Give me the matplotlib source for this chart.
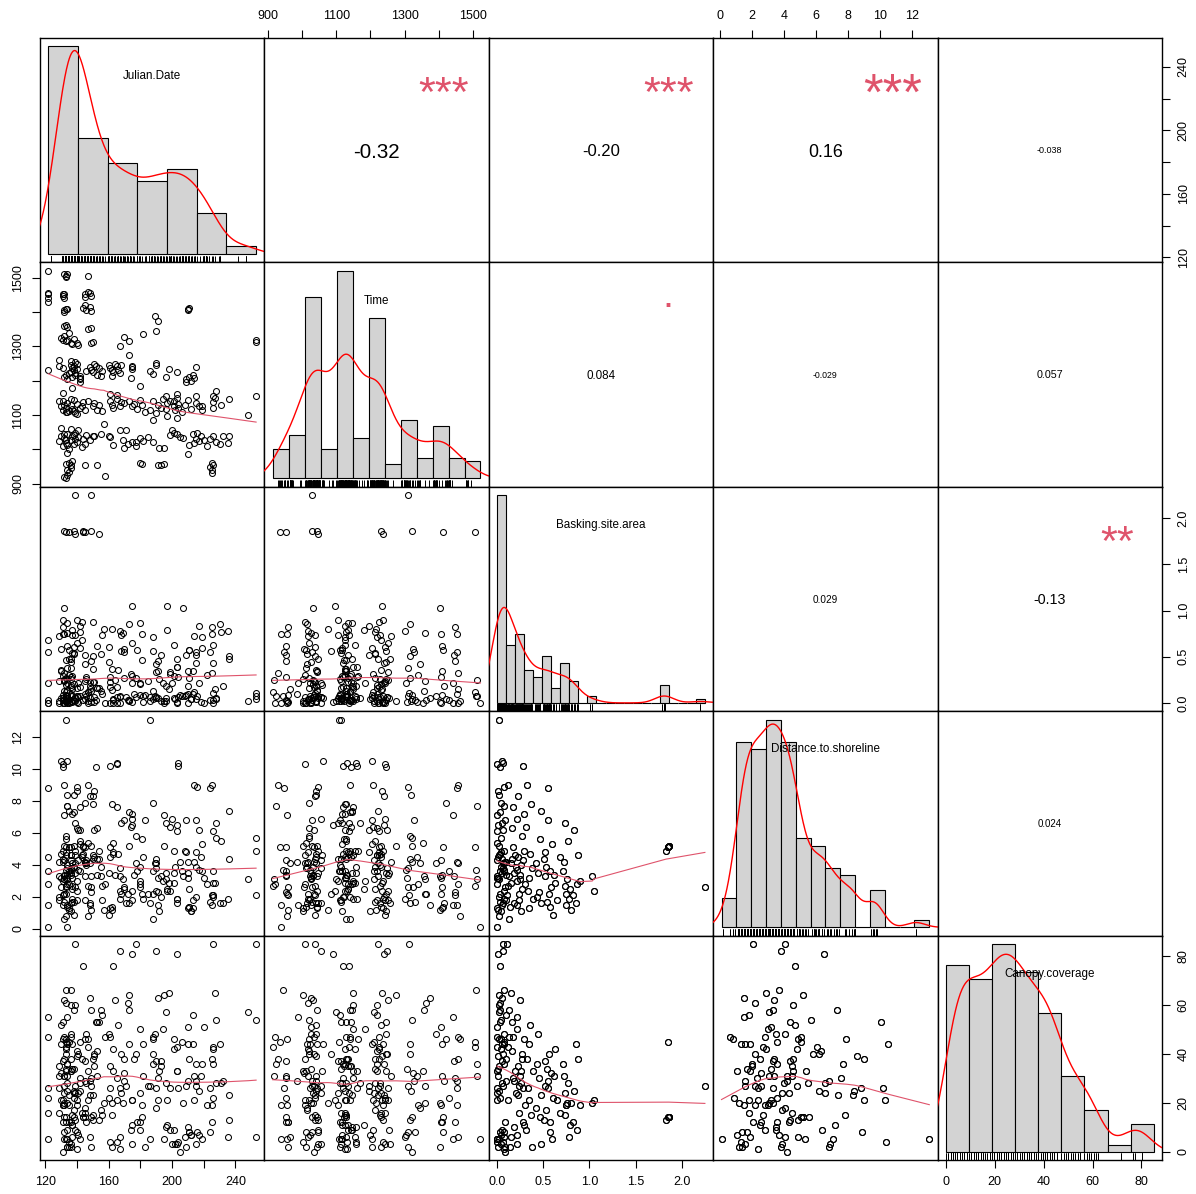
#!/usr/bin/env python3
"""
Correlation scatterplot matrix for the basking survey
(PerformanceAnalytics chart.Correlation look: scatter + lowess below,
r and significance stars above, histogram + density on the diagonal).
"""

import numpy as np
import matplotlib
matplotlib.use("Agg")
import matplotlib.pyplot as plt
from matplotlib import transforms

plt.rcParams["font.family"] = ["Liberation Sans", "DejaVu Sans"]

var_names = ["Julian.Date", "Time", "Basking.site.area",
             "Distance.to.shoreline", "Canopy.coverage"]

# ---- site attributes (one entry per basking site) ----
site_area = [
    0.0, 0.25, 0.07, 1.85, 0.08, 0.12, 0.0, 0.55, 0.75, 0.32,
    0.1, 0.15, 0.02, 0.22, 0.03, 0.82, 0.0, 0.52, 0.45, 0.75,
    0.09, 0.62, 1.85, 0.28, 0.01, 0.18, 0.0, 0.35, 0.57, 1.03,
    0.04, 0.24, 0.03, 0.76, 0.0, 0.13, 0.05, 0.07, 0.42, 0.58,
    0.09, 0.27, 0.02, 0.38, 0.01, 1.86, 2.25, 0.51, 0.78, 0.85,
    0.04, 0.11, 0.03, 0.3, 0.01, 0.21, 0.07, 0.55, 0.72, 0.47,
    0.05, 0.33, 0.02, 0.26, 0.08, 0.2, 0.06, 0.65, 0.17, 0.6,
    0.01, 0.23, 1.86, 0.88, 0.06, 0.16, 1.83, 0.53, 0.73, 0.44,
    0.0, 0.14, 0.04, 0.25, 0.0, 0.36, 0.0, 0.56, 0.8, 1.05,
    0.01, 0.22, 0.06, 0.06, 0.0, 0.19, 0.05, 0.48, 0.77, 0.59,
    0.08, 0.31, 0.09, 0.27, 0.1, 0.12, 0.24, 0.68, 0.9, 0.54,
    0.02, 0.26, 0.03, 0.71, 0.02, 0.15, 0.0, 0.43, 0.83, 0.52,
    0.04, 0.18, 0.08, 0.28, 0.06, 0.39, 0.04, 0.63, 0.29, 0.79,
    0.05, 0.21, 0.02, 0.34, 0.05, 0.13, 0.02, 0.46, 0.86, 0.57,
    0.1, 0.29, 0.03, 0.74, 0.07, 0.17, 0.03, 0.37, 0.23, 0.16,
]
site_distance = [
    0.1, 3.1, 3.7, 5.1, 7.7, 2.7, 2.8, 8.8, 1.5, 9.0,
    4.2, 4.1, 0.8, 1.5, 3.6, 2.1, 7.1, 3.3, 2.3, 2.2,
    2.6, 3.4, 5.1, 4.3, 1.2, 1.6, 3.2, 1.3, 1.4, 3.3,
    7.9, 2.2, 2.2, 3.1, 5.4, 3.3, 1.5, 4.1, 4.1, 2.6,
    4.2, 5.8, 8.4, 3.8, 3.2, 5.2, 2.6, 4.4, 1.9, 1.6,
    5.7, 2.1, 1.7, 2.8, 4.5, 3.7, 8.9, 6.8, 4.2, 1.6,
    3.5, 2.4, 5.2, 1.1, 1.9, 3.9, 4.1, 1.8, 5.1, 0.9,
    8.6, 8.3, 5.2, 4.6, 6.2, 6.3, 4.9, 3.9, 2.7, 3.5,
    1.3, 1.4, 4.8, 3.4, 10.3, 4.7, 3.3, 2.2, 1.2, 2.4,
    6.5, 6.9, 1.6, 3.8, 4.3, 4.6, 10.5, 7.4, 5.5, 5.3,
    3.6, 6.4, 6.8, 2.5, 1.8, 9.0, 1.8, 4.5, 3.0, 1.7,
    4.6, 4.0, 10.1, 3.6, 3.1, 2.9, 6.1, 2.0, 6.2, 4.8,
    1.1, 3.5, 4.9, 10.2, 10.4, 1.9, 3.9, 2.9, 4.9, 2.5,
    6.6, 3.0, 2.0, 3.2, 4.4, 0.6, 13.1, 5.6, 2.8, 3.6,
    3.4, 7.2, 7.3, 6.6, 2.4, 7.6, 4.7, 7.8, 4.5, 4.4,
]
site_canopy = [
    5, 31, 66, 45, 36, 43, 47, 26, 19, 38,
    29, 6, 46, 55, 22, 12, 5, 37, 30, 19,
    12, 31, 14, 12, 2, 29, 51, 44, 8, 20,
    46, 27, 61, 20, 33, 58, 63, 48, 18, 32,
    0, 40, 25, 2, 34, 14, 27, 13, 6, 44,
    54, 85, 8, 19, 31, 7, 8, 29, 31, 3,
    9, 26, 64, 33, 44, 24, 85, 21, 47, 22,
    39, 23, 14, 38, 40, 41, 13, 17, 15, 48,
    4, 2, 42, 62, 21, 52, 26, 40, 20, 21,
    81, 3, 27, 82, 24, 33, 44, 23, 28, 5,
    45, 9, 2, 38, 56, 21, 16, 16, 19, 34,
    60, 28, 53, 36, 57, 65, 43, 36, 25, 27,
    7, 10, 6, 26, 4, 33, 3, 42, 46, 11,
    28, 50, 35, 21, 37, 47, 5, 14, 9, 12,
    38, 11, 58, 24, 1, 30, 76, 15, 35, 53,
]

# ---- survey observations (first round of visits, then second round) ----
julian_date = [
    122, 132, 133, 133, 134, 147,
    122, 122, 131, 132, 145, 148, 147,
    122, 122, 131, 132, 145, 149, 132, 133, 134, 144, 146, 149, 148, 210, 210, 211, 132, 145,
    132, 133, 134, 147, 149, 191, 189,
    190, 130, 131, 133, 134, 136, 137, 138, 149, 150, 167, 173, 253, 253, 132, 135, 182, 141,
    140, 170,
    129, 136, 139, 190, 173,
    136, 137, 138, 139, 140, 136, 138, 140, 148, 149, 150, 151, 153, 154, 155, 156, 160, 161,
    162, 163, 164, 165, 166, 167, 168, 162, 175, 175, 175, 186, 190, 132, 133, 134, 135, 142,
    142, 142, 174, 209, 211, 213, 214, 129, 122, 131, 137, 139, 146, 152, 188, 196, 198, 203,
    215,
    142, 209, 212, 196, 253, 161, 165, 203, 215, 226, 131, 137, 228, 180,
    129, 130, 131, 132, 133, 133, 134, 135, 136, 137, 138, 139, 140, 142, 144, 150, 151, 153,
    154, 161, 162, 163, 165, 167, 168, 173, 175, 176, 178, 180, 181, 186, 188, 190, 191, 193,
    194, 196, 197, 201, 201, 202, 203, 204, 204, 208, 210, 212, 215, 217, 226, 226, 227, 248,
    219, 131, 134, 136, 138, 140, 143, 145, 147, 156, 170, 183, 199, 206, 219, 231, 236,
    130, 136, 141, 167, 171, 200, 203, 197, 157, 188,
    129, 130, 131, 132, 133, 134, 135, 136, 137, 138, 139, 140, 141, 143, 144, 150, 151, 160,
    161, 175, 177, 180, 182, 192, 195, 199, 201, 203, 214, 215, 216, 217, 218, 222, 224, 226,
    228, 230, 235, 236, 139, 132, 133, 134, 138, 177, 205, 170, 145, 146, 148, 155, 163, 169,
    172, 185, 188, 207, 211, 213, 220, 232,
    135, 136, 145, 153, 180, 181, 191, 193, 195, 225, 226, 134, 133, 137, 210,
    225, 225, 224, 158, 133, 134, 135, 136, 132, 134,
]
time_of_day = [
    1521, 1510, 1507, 1504, 1512, 1506,
    1455, 1452, 1452, 1454, 1453, 1456, 1460,
    1440, 1430, 1446, 1442, 1445, 1448, 1405, 1408, 1410, 1412, 1406, 1404, 1415, 1405, 1410,
    1413, 1402, 1420,
    1360, 1362, 1358, 1352, 1355, 1375, 1390,
    1345, 1325, 1320, 1315, 1318, 1310, 1306, 1322, 1311, 1314, 1301, 1316, 1320, 1312, 1330,
    1340, 1335, 1303, 1310, 1328,
    1260, 1257, 1255, 1252, 1275,
    1245, 1238, 1230, 1223, 1250, 1226, 1243, 1235, 1240, 1232, 1225, 1248, 1218, 1236, 1213,
    1229, 1245, 1238, 1230, 1225, 1250, 1242, 1232, 1223, 1246, 1215, 1233, 1240, 1243, 1228,
    1247, 1210, 1218, 1204, 1223, 1213, 1205, 1209, 1208, 1205, 1212, 1218, 1208, 1242, 1230,
    1236, 1212, 1218, 1228, 1244, 1220, 1210, 1235, 1226, 1240,
    1195, 1195, 1198, 1157, 1155, 1160, 1158, 1160, 1157, 1155, 1165, 1180, 1170, 1185,
    1140, 1125, 1115, 1130, 1108, 1122, 1135, 1112, 1128, 1118, 1145, 1106, 1132, 1120, 1138,
    1125, 1135, 1115, 1130, 1142, 1130, 1120, 1148, 1125, 1138, 1140, 1125, 1132, 1118, 1145,
    1128, 1115, 1140, 1106, 1130, 1122, 1148, 1118, 1135, 1140, 1125, 1115, 1150, 1132, 1120,
    1128, 1145, 1118, 1135, 1125, 1121, 1138, 1150, 1101, 1125, 1142, 1110, 1148, 1113, 1104,
    1126, 1115, 1140, 1112, 1134, 1110, 1142, 1108, 1116, 1130, 1146,
    1062, 1058, 1055, 1057, 1057, 1055, 1090, 1098, 1075, 1085,
    1025, 1040, 1010, 1033, 1018, 1045, 1002, 1028, 1038, 1015, 1048, 1022, 1035, 1008, 1030,
    1038, 1040, 1038, 1036, 1020, 1009, 1033, 1025, 1004, 1004, 1043, 1048, 1046, 1018, 1030,
    1047, 1025, 1040, 1009, 1030, 1038, 1020, 1015, 1018, 1038, 1030, 1044, 1027, 1012, 1042,
    1020, 1036, 1005, 1015, 1041, 1026, 1045, 1012, 1028, 1017, 1035, 1020, 1033, 1012, 1044,
    1026, 1040,
    960, 955, 955, 955, 960, 958, 955, 955, 957, 960, 955, 990, 957, 965, 985,
    930, 940, 948, 923, 915, 925, 935, 945, 920, 940,
]

# histogram breaks (start, stop, width) as chosen by R's "FD" rule
hist_breaks = [(120, 260, 20), (900, 1550, 50), (0, 2.3, 0.1), (0, 14, 1), (0, 90, 10)]

axis_ticks = [
    [120, 140, 160, 180, 200, 220, 240],
    [900, 1000, 1100, 1200, 1300, 1400, 1500],
    [0.0, 0.5, 1.0, 1.5, 2.0],
    [0, 2, 4, 6, 8, 10, 12],
    [0, 20, 40, 60, 80],
]
axis_tick_labels = [
    ["120", "", "160", "", "200", "", "240"],
    ["900", "", "1100", "", "1300", "", "1500"],
    ["0.0", "0.5", "1.0", "1.5", "2.0"],
    ["0", "2", "4", "6", "8", "10", "12"],
    ["0", "20", "40", "60", "80"],
]

# upper panels: pearson r and significance code
cor_cells = [(0, 1), (0, 2), (0, 3), (0, 4), (1, 2), (1, 3), (1, 4), (2, 3), (2, 4), (3, 4)]
cor_value = [-0.32, -0.20, 0.16, -0.038, 0.084, -0.029, 0.057, 0.029, -0.13, 0.024]
cor_text = ["-0.32", "-0.20", "0.16", "-0.038", "0.084", "-0.029", "0.057", "0.029", "-0.13", "0.024"]
cor_stars = ["***", "***", "***", "", ".", "", "", "", "**", ""]

STAR_COL = "#DF536B"
SMOOTH_COL = "#DF536B"
PX_W, PX_H = 1196, 1194
X0, Y0, CELL = 40, 38, 224.4


def padded(v):
    lo, hi = float(np.min(v)), float(np.max(v))
    d = 0.04 * (hi - lo)
    return lo - d, hi + d


def hist_counts(v, lo, hi, step):
    # right-closed bins, lowest included (R's hist)
    n = int(round((hi - lo) / step))
    edges = np.round(lo + np.arange(n + 1) * step, 10)
    idx = np.clip(np.searchsorted(edges, v, side="left") - 1, 0, n - 1)
    return edges, np.bincount(idx, minlength=n)


def density(v):
    n = len(v)
    q75, q25 = np.percentile(v, [75, 25])
    bw = 0.9 * min(v.std(ddof=1), (q75 - q25) / 1.34) * n ** -0.2
    grid = np.linspace(v.min() - 3 * bw, v.max() + 3 * bw, 512)
    z = (grid[:, None] - v[None, :]) / bw
    return grid, np.exp(-0.5 * z ** 2).sum(1) / (n * bw * np.sqrt(2 * np.pi))


def lowess(x, y, frac=2 / 3, iters=3):
    order = np.argsort(x, kind="stable")
    x, y = x[order], y[order]
    n = len(x)
    ns = max(2, min(n, int(frac * n + 1e-7)))
    robust = np.ones(n)
    fit = y.copy()
    span = x[-1] - x[0]
    for it in range(iters + 1):
        for k in range(n):
            d = np.abs(x - x[k])
            h = max(np.partition(d, ns - 1)[ns - 1], 1e-12)
            u = d / h
            w = np.where(u <= 0.999, (1 - np.clip(u, 0, 1) ** 3) ** 3, 0.0)
            w[u <= 0.001] = 1.0
            w = w * robust
            sw = w.sum()
            if sw <= 0:
                fit[k] = y[k]
                continue
            w = w / sw
            xm = (w * x).sum()
            b = (w * (x - xm) ** 2).sum()
            fit[k] = (w * y).sum()
            if np.sqrt(b) > 0.001 * span:
                fit[k] += (w * (x - xm) * y).sum() / b * (x[k] - xm)
        if it == iters:
            break
        res = np.abs(y - fit)
        cmad = 6 * np.median(res)
        if cmad == 0:
            break
        r = res / cmad
        robust = np.where(r < 1, (1 - r ** 2) ** 2, 0.0)
    return x, fit


def cell_rect(i, j):
    left = X0 + j * CELL
    bottom = Y0 + (i + 1) * CELL
    return [left / PX_W, 1 - bottom / PX_H, CELL / PX_W, CELL / PX_H]


def outer_axes(ax, i, j):
    if i == 0 and j % 2 == 1:
        ax.set_xticks(axis_ticks[j], axis_tick_labels[j])
        ax.tick_params(axis="x", top=True, bottom=False, labeltop=True, labelbottom=False)
    if i == 4 and j % 2 == 0:
        ax.set_xticks(axis_ticks[j], axis_tick_labels[j])
    if j == 0 and i % 2 == 1:
        ax.set_yticks(axis_ticks[i], axis_tick_labels[i])
        plt.setp(ax.get_yticklabels(), rotation=90, va="center")
    if j == 4 and i % 2 == 0:
        ax.set_yticks(axis_ticks[i], axis_tick_labels[i])
        ax.tick_params(axis="y", right=True, left=False, labelright=True, labelleft=False)
        plt.setp(ax.get_yticklabels(), rotation=90, va="center")
    ax.tick_params(direction="out", length=5.8, width=0.8, labelsize=9, pad=5.5)


def main():
    area = np.array(site_area, float)
    dist = np.array(site_distance, float)
    canopy = np.array(site_canopy, float)
    n_sites = len(area)
    # the second survey round ran through the sites in reverse order
    obs_site = np.r_[np.arange(n_sites), np.arange(n_sites)[::-1]]
    data = [np.array(julian_date, float), np.array(time_of_day, float),
            area[obs_site], dist[obs_site], canopy[obs_site]]
    lims = [padded(v) for v in data]

    fig = plt.figure(figsize=(PX_W / 100, PX_H / 100), dpi=100)
    renderer = fig.canvas.get_renderer()

    def width_px(s, size):
        t = fig.text(0, 0, s, fontsize=size)
        w = t.get_window_extent(renderer=renderer).width
        t.remove()
        return w

    cors = {cell: k for k, cell in enumerate(cor_cells)}

    for i in range(5):
        for j in range(5):
            rect = cell_rect(i, j)
            ax = fig.add_axes(rect, label=f"cell{i}{j}")
            ax.set_xticks([])
            ax.set_yticks([])
            for sp in ax.spines.values():
                sp.set_linewidth(1.0)
            outer_axes(ax, i, j)
            ax.set_xlim(lims[j])
            ax.set_ylim(lims[i])

            if i > j:
                x, y = data[j], data[i]
                ax.plot(x, y, "o", ms=4.3, mfc="none", mec="black", mew=0.75)
                sx, sy = lowess(x, y)
                ax.plot(sx, sy, color=SMOOTH_COL, lw=0.8)
            elif i < j:
                k = cors[(i, j)]
                txt, r = cor_text[k], cor_value[k]
                base = 100 * 98.5 / width_px(txt, 100)
                size = base * (abs(r) + 0.3) / 1.3
                tr = transforms.offset_copy(ax.transAxes, fig=fig, y=-0.358 * size, units="points")
                ax.text(0.5, 0.5, txt, fontsize=size, ha="center", va="baseline",
                        transform=tr, color="black")
                stars = cor_stars[k]
                if stars:
                    lift = 0.05 if stars == "." else 0.58
                    tr = transforms.offset_copy(ax.transAxes, fig=fig,
                                                y=-lift * base + 1.5, units="points")
                    ax.text(0.8, 0.8, stars, fontsize=base, ha="center", va="baseline",
                            transform=tr, color=STAR_COL)
            else:
                v = data[i]
                lo, hi, step = hist_breaks[i]
                edges, counts = hist_counts(v, lo, hi, step)
                hx = fig.add_axes(rect, label=f"hist{i}")
                hx.set_axis_off()
                hx.bar(edges[:-1], counts, width=np.diff(edges), align="edge",
                       color="#D3D3D3", edgecolor="black", linewidth=0.8)
                gx, gy = density(v)
                hx.plot(gx, gy * len(v) * step, color="red", lw=1.0)
                rug = transforms.blended_transform_factory(hx.transData, hx.transAxes)
                hx.vlines(v, 0, 0.03, transform=rug, color="black", lw=0.7)
                pad = 0.04 * (edges[-1] - edges[0])
                hx.set_xlim(edges[0] - pad, edges[-1] + pad)
                cmax = counts.max()
                hx.set_ylim(-0.04 * cmax, 1.04 * cmax)
                hx.text(0.5, 0.83, var_names[i], transform=hx.transAxes, fontsize=8.35,
                        ha="center", va="center", color="black", zorder=10)

    fig.savefig("out.png", dpi=100)
    plt.close(fig)


if __name__ == "__main__":
    main()
